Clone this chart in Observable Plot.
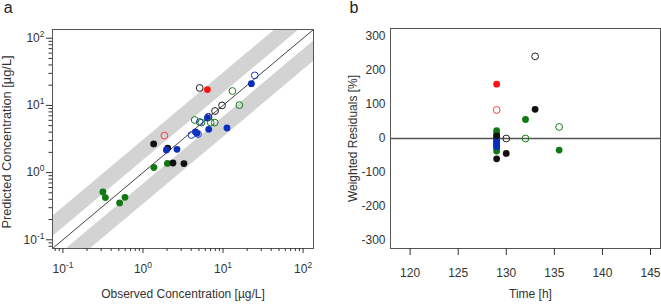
<!DOCTYPE html>
<html>
<head>
<meta charset="utf-8">
<script src="https://cdn.jsdelivr.net/npm/d3@7"></script>
<script src="https://cdn.jsdelivr.net/npm/@observablehq/plot@0.6"></script>
<style>
  html, body { margin: 0; padding: 0; background: #fff; }
  #wrap { position: relative; width: 661px; height: 304px; overflow: hidden; }
  #wrap svg { position: absolute; top: 0; }
</style>
</head>
<body>
<div id="wrap"></div>
<script>
// ---------- Panel a data: observed vs predicted concentration [µg/L] ----------
const obsFilledBlack  = [1.36, 2.04, 2.37, 3.25];
const predFilledBlack = [2.67, 2.32, 1.39, 1.36];
const obsFilledGreen  = [1.37, 2.02, 0.316, 0.339, 0.511, 0.596];
const predFilledGreen = [1.19, 1.37, 0.514, 0.425, 0.353, 0.429];
const obsFilledBlue   = [1.96, 2.66, 4.52, 4.73, 6.63, 11.2, 6.38, 22.6];
const predFilledBlue  = [2.17, 2.22, 4.02, 3.85, 4.41, 4.61, 6.49, 21.1];
const obsFilledRed    = [6.38];
const predFilledRed   = [17.2];
const obsOpenBlack    = [5.11, 9.72, 7.94, 6.57];
const predOpenBlack   = [18.2, 10.0, 8.26, 6.7];
const obsOpenBlue     = [24.9, 6.57, 5.11, 4.03, 4.87];
const predOpenBlue    = [28.0, 6.76, 5.66, 3.63, 3.75];
const obsOpenGreen    = [13.1, 16.0, 4.43, 5.37, 7.02, 7.87];
const predOpenGreen   = [16.4, 10.1, 6.07, 5.55, 5.55, 5.55];
const obsOpenRed      = [1.85];
const predOpenRed     = [3.55];

const concDomain   = [10 ** -1.13, 10 ** 2.13];
const upperBand    = [1.5, 3];
const lowerBand    = [1 / 3, 1 / 1.5];
const majorTicksA  = [0.1, 1, 10, 100];
const minorTicksA  = [0.08, 0.09, 0.2, 0.3, 0.4, 0.5, 0.6, 0.7, 0.8, 0.9,
                      2, 3, 4, 5, 6, 7, 8, 9, 20, 30, 40, 50, 60, 70, 80, 90];
const xLabelA = "Observed Concentration [µg/L]";
const yLabelA = "Predicted Concentration [µg/L]";

// ---------- Panel b data: weighted residuals [%] vs time [h] ----------
const timeFilledGreen  = [129, 129, 129, 129, 132, 135.5];
const resFilledGreen   = [23, 15, -30, -37, 56, -34];
const timeFilledBlue   = [129, 129, 129, 129, 129, 129, 129, 129];
const resFilledBlue    = [4, 0, -4, -8, -12, -16, -20, -24];
const timeFilledBlack  = [129, 129, 130, 133];
const resFilledBlack   = [8, -60, -44, 86];
const timeFilledRed    = [129];
const resFilledRed     = [160];
const timeOpenBlack    = [130, 133];
const resOpenBlack     = [0, 242];
const timeOpenGreen    = [132, 135.5];
const resOpenGreen     = [0, 34];
const timeOpenRed      = [129];
const resOpenRed       = [84];

const timeDomain  = [117.96, 146.04];
const resDomain   = [-324, 324];
const timeTicks   = [120, 125, 130, 135, 140, 145];
const resTicks    = [-300, -200, -100, 0, 100, 200, 300];
const xLabelB = "Time [h]";
const yLabelB = "Weighted Residuals [%]";

// ---------- styling ----------
const FONT = "'Liberation Sans', Arial, sans-serif";
const TXT = "#333";
const AX = "#555";
const BLACK = "#111111", GREEN = "#0f7a14", BLUE = "#0b2fbd", RED = "#ff1010";

function dots(xs, ys, color, filled) {
  return Plot.dot(xs, {
    x: d => d, y: (d, i) => ys[i], r: 3.4,
    fill: filled ? color : "none",
    stroke: filled ? "none" : color,
    strokeWidth: 1
  });
}
const supFmt = d => "10^" + Math.round(Math.log10(d));

function superscripts(svg) {
  d3.select(svg).selectAll("text").each(function () {
    const t = this.textContent;
    if (!t.includes("^")) return;
    const [base, exp] = t.split("^");
    const sel = d3.select(this);
    sel.text(null);
    sel.append("tspan").text(base);
    sel.append("tspan").attr("font-size", "8.5px").attr("dy", "-5").text(exp);
  });
}

const plotA = Plot.plot({
  width: 330, height: 304,
  marginLeft: 52, marginRight: 17, marginTop: 29, marginBottom: 56,
  style: { fontFamily: FONT, fontSize: "12px", color: TXT, background: "white", overflow: "visible" },
  x: { type: "log", domain: concDomain, axis: null },
  y: { type: "log", domain: concDomain, axis: null },
  marks: [
    Plot.areaY(concDomain, { x: d => d, y1: d => d * upperBand[0], y2: d => d * upperBand[1], fill: "#d3d3d3", clip: true }),
    Plot.areaY(concDomain, { x: d => d, y1: d => d * lowerBand[0], y2: d => d * lowerBand[1], fill: "#d3d3d3", clip: true }),
    Plot.line(concDomain, { x: d => d, y: d => d, stroke: BLACK, strokeWidth: 0.8, clip: true }),
    dots(obsFilledGreen, predFilledGreen, GREEN, true),
    dots(obsFilledBlack, predFilledBlack, BLACK, true),
    dots(obsFilledBlue, predFilledBlue, BLUE, true),
    dots(obsFilledRed, predFilledRed, RED, true),
    dots(obsOpenBlack, predOpenBlack, "#222", false),
    dots(obsOpenBlue, predOpenBlue, "#1d3fcc", false),
    dots(obsOpenGreen, predOpenGreen, "#1a7a1a", false),
    dots(obsOpenRed, predOpenRed, "#ff3a3a", false),
    Plot.frame({ stroke: AX }),
    Plot.axisX(majorTicksA, { anchor: "bottom", tickSize: 5, tickPadding: 11, tickFormat: supFmt, label: null, color: TXT }),
    Plot.axisX(minorTicksA, { anchor: "bottom", tickSize: 3, tickFormat: () => "", label: null, color: TXT }),
    Plot.axisY(majorTicksA, { anchor: "left", tickSize: 6, tickPadding: 2, tickFormat: supFmt, label: null, color: TXT }),
    Plot.axisY(minorTicksA, { anchor: "left", tickSize: 3.5, tickFormat: () => "", label: null, color: TXT }),
    Plot.text([xLabelA], { text: d => d, frameAnchor: "bottom", textAnchor: "middle", dy: 46, lineAnchor: "middle", fontSize: 12, fill: TXT }),
    Plot.text([yLabelA], { text: d => d, frameAnchor: "left", textAnchor: "middle", rotate: -90, dx: -45.3, dy: 3, lineAnchor: "middle", fontSize: 12.8, fill: TXT }),
    Plot.text(["a"], { text: d => d, frameAnchor: "top-left", textAnchor: "start", dx: -48.7, dy: -21.4, lineAnchor: "middle", fontSize: 16, fill: "#222" })
  ]
});
superscripts(plotA);

const plotB = Plot.plot({
  width: 331, height: 304,
  marginLeft: 60, marginRight: 1, marginTop: 28, marginBottom: 56,
  style: { fontFamily: FONT, fontSize: "12px", color: TXT, background: "white", overflow: "visible" },
  x: { domain: timeDomain, axis: null },
  y: { domain: resDomain, axis: null },
  marks: [
    Plot.ruleY([0], { stroke: "#555", strokeWidth: 1.3 }),
    dots(timeOpenBlack, resOpenBlack, "#222", false),
    dots(timeOpenGreen, resOpenGreen, "#1a7a1a", false),
    dots(timeOpenRed, resOpenRed, "#ff3a3a", false),
    dots(timeFilledGreen, resFilledGreen, GREEN, true),
    dots(timeFilledBlue, resFilledBlue, BLUE, true),
    dots(timeFilledBlack, resFilledBlack, BLACK, true),
    dots(timeFilledRed, resFilledRed, RED, true),
    Plot.frame({ stroke: AX }),
    Plot.axisX(timeTicks, { anchor: "bottom", tickSize: 7, tickPadding: 13, tickFormat: d => String(d), label: null, color: TXT }),
    Plot.axisY(resTicks, { anchor: "left", tickSize: 0, tickPadding: 5, tickFormat: d => String(d), label: null, color: TXT }),
    Plot.text([xLabelB], { text: d => d, frameAnchor: "bottom", textAnchor: "middle", dx: 5, dy: 46, lineAnchor: "middle", fontSize: 12, fill: TXT }),
    Plot.text([yLabelB], { text: d => d, frameAnchor: "left", textAnchor: "middle", rotate: -90, dx: -37.5, lineAnchor: "middle", fontSize: 12, fill: TXT }),
    Plot.text(["b"], { text: d => d, frameAnchor: "top-left", textAnchor: "start", dx: -41, dy: -20.4, lineAnchor: "middle", fontSize: 16, fill: "#222" })
  ]
});

const wrap = document.getElementById("wrap");
plotA.style.left = "0px";
plotB.style.left = "330px";
wrap.appendChild(plotA);
wrap.appendChild(plotB);
</script>
</body>
</html>
